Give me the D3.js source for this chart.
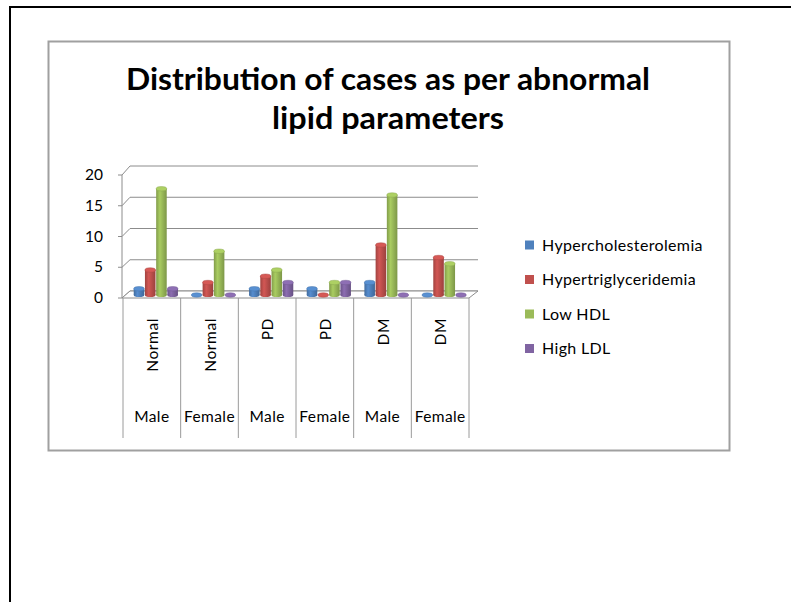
<!DOCTYPE html>
<html>
<head>
<meta charset="utf-8">
<script src="https://cdn.jsdelivr.net/npm/d3@7"></script>
<style>
  body { margin: 0; background: #fff; }
  text { font-family: Lato, "Open Sans", sans-serif; fill: #000; }
</style>
</head>
<body>
<div id="chart"></div>
<script>
// data
const groups = ["Normal", "Normal", "PD", "PD", "DM", "DM"];
const sexes = ["Male", "Female", "Male", "Female", "Male", "Female"];
const series = ["Hypercholesterolemia", "Hypertriglyceridemia", "Low HDL", "High LDL"];
const colors = ["#4f81bd", "#c0504d", "#9bbb59", "#8064a2"];
const hyperchol = [1, 0, 1, 1, 2, 0];
const hypertrig = [4, 2, 3, 0, 8, 6];
const lowHdl = [17, 7, 4, 2, 16, 5];
const highLdl = [1, 0, 2, 2, 0, 0];
const yTicks = [0, 5, 10, 15, 20];
const titleLines = ["Distribution of cases as per abnormal", "lipid parameters"];

const values = [hyperchol, hypertrig, lowHdl, highLdl];
const cats = groups.map((g, i) => i);

const W = 791, H = 602;
const svg = d3.select("#chart").append("svg")
    .attr("width", W)
    .attr("height", H);

// outer black frame
svg.append("line").attr("x1", 9).attr("x2", W).attr("y1", 7).attr("y2", 7)
    .attr("stroke", "#000").attr("stroke-width", 2);
svg.append("line").attr("x1", 10).attr("x2", 10).attr("y1", 6).attr("y2", H)
    .attr("stroke", "#000").attr("stroke-width", 2);

// chart box
svg.append("rect")
    .attr("x", 48.5).attr("y", 41.5).attr("width", 681).attr("height", 409)
    .attr("fill", "#fff").attr("stroke", "#a0a0a0").attr("stroke-width", 2);

// title
const titleWidths = [524, 232];
svg.selectAll("text.title").data(titleLines).enter().append("text")
    .attr("class", "title")
    .attr("x", 388)
    .attr("y", (d, i) => 90 + i * 39)
    .attr("text-anchor", "middle")
    .attr("font-size", 30)
    .attr("font-weight", "bold")
    .attr("textLength", (d, i) => titleWidths[i])
    .attr("lengthAdjust", "spacingAndGlyphs")
    .text(d => d);

// 3d-ish scales: front edge, back wall, and mid depth for bars
const depthX = 8;
const yFront = d3.scaleLinear().domain([0, 20]).range([298, 175]);
const yBack = d3.scaleLinear().domain([0, 20]).range([291, 166]);
const yMid = d3.scaleLinear().domain([0, 20]).range([295, 170]);

const x0 = d3.scaleBand().domain(cats).range([123, 469]);
const x1 = d3.scaleBand().domain(series).range([0, x0.bandwidth()])
    .paddingInner(0.06).paddingOuter(0.6);

const grid = svg.append("g");
grid.selectAll("path").data(yTicks).enter().append("path")
    .attr("d", d => "M122," + yFront(d) + "L" + (122 + depthX) + "," + yBack(d) + "L478," + yBack(d))
    .attr("fill", "none").attr("stroke", "#8c8c8c").attr("stroke-width", 1);

// floor
svg.append("path")
    .attr("d", "M122," + yFront(0) + "L469," + yFront(0) + "L478," + yBack(0) + "L130," + yBack(0) + "Z")
    .attr("fill", "#fff").attr("stroke", "#8c8c8c");

// y axis line + ticks
svg.append("line").attr("x1", 122).attr("x2", 122)
    .attr("y1", yFront(20)).attr("y2", yFront(0)).attr("stroke", "#8c8c8c");
svg.selectAll("line.ytick").data(yTicks).enter().append("line")
    .attr("class", "ytick")
    .attr("x1", 118).attr("x2", 122)
    .attr("y1", d => yFront(d)).attr("y2", d => yFront(d))
    .attr("stroke", "#8c8c8c");
svg.selectAll("text.ylab").data(yTicks).enter().append("text")
    .attr("class", "ylab")
    .attr("x", 103)
    .attr("y", d => yFront(d) + 5)
    .attr("text-anchor", "end")
    .attr("font-size", 15.5)
    .text(d => d);

// category dividers
const edges = cats.map(c => x0(c)).concat([x0.range()[1]]);
svg.selectAll("line.div").data(edges).enter().append("line")
    .attr("class", "div")
    .attr("x1", d => d).attr("x2", d => d)
    .attr("y1", yFront(0)).attr("y2", 438)
    .attr("stroke", "#9a9a9a");

// gradients for the cylinders
const defs = svg.append("defs");
colors.forEach((c, i) => {
    const g = defs.append("linearGradient").attr("id", "grad" + i)
        .attr("x1", "0%").attr("x2", "100%");
    const base = d3.color(c);
    g.append("stop").attr("offset", "0%").attr("stop-color", base.darker(0.5));
    g.append("stop").attr("offset", "35%").attr("stop-color", base.brighter(0.25));
    g.append("stop").attr("offset", "100%").attr("stop-color", base.darker(0.6));
});

// bars
const bars = svg.append("g");
series.forEach((s, si) => {
    const g = bars.append("g");
    const bw = x1.bandwidth();
    const items = cats.map(c => ({ c: c, v: values[si][c] }));
    g.selectAll("rect").data(items.filter(d => d.v > 0)).enter().append("rect")
        .attr("x", d => x0(d.c) + x1(s) + depthX / 2)
        .attr("y", d => yMid(d.v))
        .attr("width", bw)
        .attr("height", d => yMid(0) - yMid(d.v))
        .attr("fill", "url(#grad" + si + ")");
    // bottom round
    g.selectAll("ellipse.bot").data(items.filter(d => d.v > 0)).enter().append("ellipse")
        .attr("class", "bot")
        .attr("cx", d => x0(d.c) + x1(s) + depthX / 2 + bw / 2)
        .attr("cy", yMid(0))
        .attr("rx", bw / 2).attr("ry", 2)
        .attr("fill", "url(#grad" + si + ")");
    // top cap
    g.selectAll("ellipse.top").data(items).enter().append("ellipse")
        .attr("class", "top")
        .attr("cx", d => x0(d.c) + x1(s) + depthX / 2 + bw / 2)
        .attr("cy", d => yMid(d.v))
        .attr("rx", bw / 2).attr("ry", 2.2)
        .attr("fill", d3.color(colors[si]).brighter(0.3))
        .attr("stroke", d3.color(colors[si]).darker(0.3))
        .attr("stroke-width", 0.5);
});

// category labels, inner level rotated
svg.selectAll("text.inner").data(cats).enter().append("text")
    .attr("class", "inner")
    .attr("transform", c => "translate(" + (x0(c) + x0.bandwidth() / 2 + 6) + ",318) rotate(-90)")
    .attr("text-anchor", "end")
    .attr("font-size", 15.5)
    .attr("letter-spacing", 0.6)
    .text(c => groups[c]);

svg.selectAll("text.outer").data(cats).enter().append("text")
    .attr("class", "outer")
    .attr("x", c => x0(c) + x0.bandwidth() / 2)
    .attr("y", 422)
    .attr("text-anchor", "middle")
    .attr("font-size", 15.5)
    .attr("letter-spacing", 0.4)
    .text(c => sexes[c]);

// legend
const legend = svg.append("g");
const li = legend.selectAll("g").data(series).enter().append("g")
    .attr("transform", (d, i) => "translate(525," + (245 + i * 34.5) + ")");
li.append("rect").attr("x", 0).attr("y", -4.5).attr("width", 9).attr("height", 9)
    .attr("fill", (d, i) => colors[i]);
li.append("text").attr("x", 17).attr("y", 5.5)
    .attr("font-size", 16)
    .attr("letter-spacing", 0.35)
    .text(d => d);
</script>
</body>
</html>
